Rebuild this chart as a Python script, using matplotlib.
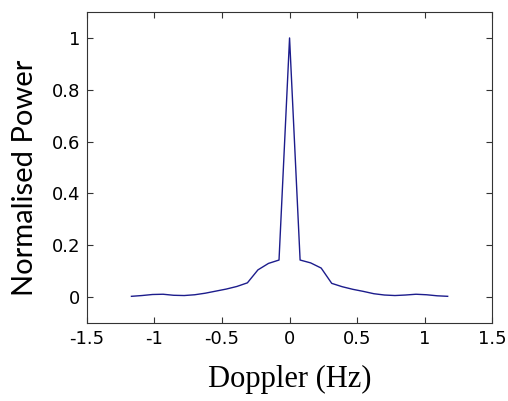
import numpy as np
import matplotlib.pyplot as plt

# Doppler spectrum, sampled every ~0.078 Hz
doppler = np.arange(-15, 16) * 0.078
power = [0.003, 0.006, 0.010, 0.011, 0.007, 0.006, 0.009, 0.015, 0.023, 0.031,
         0.041, 0.055, 0.105, 0.130, 0.143, 1.000, 0.143, 0.132, 0.112, 0.053,
         0.040, 0.030, 0.022, 0.013, 0.008, 0.006, 0.008, 0.011, 0.009, 0.005,
         0.003]

xticks = [-1.5, -1, -0.5, 0, 0.5, 1, 1.5]
yticks = [0, 0.2, 0.4, 0.6, 0.8, 1]

fig = plt.figure(figsize=(5.08, 4.01), dpi=100)
ax = fig.add_axes([0.171, 0.1945, 0.798, 0.7755])

ax.plot(doppler, power, color='#1c1c8c', linewidth=1.0)

ax.set_xlim(-1.5, 1.5)
ax.set_ylim(-0.1, 1.1)
ax.set_xticks(xticks)
ax.set_xticklabels(['-1.5', '-1', '-0.5', '0', '0.5', '1', '1.5'])
ax.set_yticks(yticks)
ax.set_yticklabels(['0', '0.2', '0.4', '0.6', '0.8', '1'])
ax.tick_params(direction='in', length=4, width=0.8, top=True, right=True,
               labelsize=13, colors='#333333', labelcolor='black', pad=5)
for s in ax.spines.values():
    s.set_color('#333333')
    s.set_linewidth(0.8)

ax.set_xlabel('Doppler (Hz)', family='Liberation Serif', fontsize=22, labelpad=12)
ax.set_ylabel('Normalised Power', family='Lato', fontsize=21)
ax.yaxis.set_label_coords(-0.12, 0.468)

fig.savefig('out.png', dpi=100)
